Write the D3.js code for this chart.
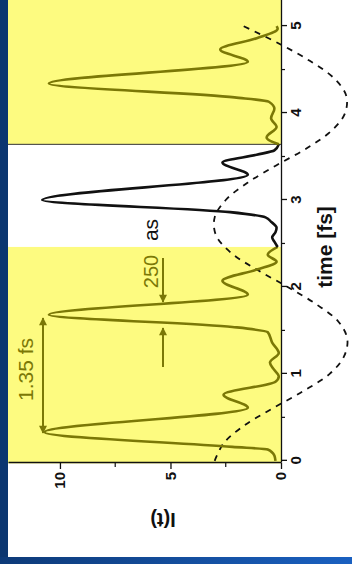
<!DOCTYPE html>
<html><head><meta charset="utf-8">
<script src="https://cdn.jsdelivr.net/npm/d3@7"></script>
<style>html,body{margin:0;padding:0;background:#fff;} svg{display:block;font-family:"Liberation Sans",Arial,sans-serif;}</style>
</head><body>
<svg id="c" width="352" height="564"></svg>
<script>
// ---- data (time in fs, intensity in arb. units) ----
const timeTicks = [0, 1, 2, 3, 4, 5];
const timeMinorTicks = [0.5, 1.5, 2.5, 3.5, 4.5];
const intensityTicks = [0, 5, 10];
const intensityMinorTicks = [2.5, 7.5];
const shadedSpans = [[-0.03, 2.46], [3.64, 5.45]];
const pulseSegment1 = [[0.00,0.25],[0.06,0.3],[0.13,0.6],[0.16,2.2],[0.33,10.7],[0.61,1.5],[0.76,2.6],[0.91,0.25],[0.97,0.1],[1.06,0.35],[1.13,0.5],[1.24,0.1],[1.36,0.4],[1.48,0.6],[1.54,2.2],[1.68,10.5],[1.91,1.5],[2.07,2.65],[2.20,1.1],[2.29,0.2],[2.37,0.6],[2.46,0.15]];
const pulseSegment2 = [[2.46,0.15],[2.52,0.3],[2.57,0.4],[2.63,0.25],[2.68,0.2],[2.75,0.45],[2.80,0.7],[2.86,2.3],[3.00,10.8],[3.29,1.5],[3.43,2.65],[3.52,1.1],[3.57,0.3],[3.64,0.1]];
const pulseSegment3 = [[3.64,0.1],[3.72,0.65],[3.84,0.2],[3.94,0.45],[4.05,0.3],[4.13,0.55],[4.18,2.1],[4.34,10.5],[4.59,1.5],[4.73,2.75],[4.86,1.1],[4.97,0.15],[5.00,0.2]];
const laserField = [[0.0,3.0],[0.2,2.6],[0.4,1.7],[0.6,0.4],[0.8,-1.0],[1.0,-2.2],[1.2,-2.85],[1.4,-3.0],[1.6,-2.6],[1.8,-1.6],[2.0,-0.3],[2.2,1.1],[2.4,2.3],[2.6,2.95],[2.8,3.0],[3.0,2.5],[3.2,1.5],[3.4,0.2],[3.6,-1.2],[3.8,-2.3],[4.0,-2.9],[4.2,-2.95],[4.4,-2.4],[4.6,-1.3],[4.8,0.1],[5.0,1.7]];
const labels = {time: "time [fs]", intensity: "I(t)", period: "1.35 fs", fwhmValue: "250", fwhmUnit: "as"};

// ---- layout ----
const svg = d3.select("#c");
const OLIVE = "#7b7806", YELLOW = "#fdfb80";
const W = 463, H = 273;

svg.append("rect").attr("x",0).attr("y",0).attr("width",352).attr("height",564).attr("fill","#fff");

const x = d3.scaleLinear().domain([-0.025, 5.3]).range([0, W]);
const y = d3.scaleLinear().domain([0, 12.35]).range([H, 0]);

// whole chart rotated 90° counter-clockwise
const g = svg.append("g").attr("transform", "translate(8,463) rotate(-90)");

const defs = svg.append("defs");
defs.append("marker").attr("id","ah").attr("viewBox","0 0 10 10").attr("refX",9).attr("refY",5)
  .attr("markerWidth",4.5).attr("markerHeight",4).attr("markerUnits","strokeWidth").attr("orient","auto-start-reverse")
  .append("path").attr("d","M0,0L10,5L0,10z").attr("fill",OLIVE);

g.selectAll("rect.shade").data(shadedSpans).join("rect").attr("class","shade")
  .attr("x", d => x(d[0])).attr("width", d => x(d[1]) - x(d[0]))
  .attr("y", 0).attr("height", H).attr("fill", YELLOW);

g.append("line").attr("x1", x(3.64)).attr("x2", x(3.64)).attr("y1", 0).attr("y2", H)
  .attr("stroke", "#333").attr("stroke-width", 1);

const line = d3.line().x(d => x(d[0])).y(d => y(d[1])).curve(d3.curveMonotoneX);

g.append("path").datum(laserField).attr("d", d3.line().x(d => x(d[0])).y(d => y(d[1])).curve(d3.curveCatmullRom))
  .attr("fill","none").attr("stroke","#111").attr("stroke-width",1.8).attr("stroke-dasharray","6,6");

[[pulseSegment1, OLIVE], [pulseSegment2, "#111"], [pulseSegment3, OLIVE]].forEach(([d, c]) => {
  g.append("path").datum(d).attr("d", line).attr("fill","none").attr("stroke", c)
    .attr("stroke-width", 2.6).attr("stroke-linejoin","round");
});

// axes
const tAxis = g.append("g").attr("transform", `translate(0,${H})`)
  .call(d3.axisBottom(x).tickValues(timeTicks).tickSize(6).tickSizeOuter(0).tickPadding(3).tickFormat(d3.format("d")));
const iAxis = g.append("g")
  .call(d3.axisLeft(y).tickValues(intensityTicks).tickSize(6).tickSizeOuter(0).tickPadding(3).tickFormat(d3.format("d")));
[tAxis, iAxis].forEach(a => {
  a.selectAll("text").attr("font-size", 15).attr("font-weight", "bold").attr("fill", "#111")
    .attr("font-family", '"Liberation Sans",Arial,sans-serif');
  a.selectAll("path,line").attr("stroke", "#111").attr("stroke-width", 1.3);
});
g.selectAll("line.tmin").data(timeMinorTicks).join("line").attr("class","tmin")
  .attr("x1", d => x(d)).attr("x2", d => x(d)).attr("y1", H).attr("y2", H + 4).attr("stroke","#111").attr("stroke-width",1.2);
g.selectAll("line.imin").data(intensityMinorTicks).join("line").attr("class","imin")
  .attr("y1", d => y(d)).attr("y2", d => y(d)).attr("x1", 0).attr("x2", -4).attr("stroke","#111").attr("stroke-width",1.2);

// axis titles
g.append("text").attr("x", 216).attr("y", 317).attr("dy", "0.35em").attr("text-anchor","middle")
  .attr("font-size", 21).attr("font-weight","bold").attr("fill","#111").text(labels.time);
g.append("text").attr("transform", "translate(-57,155) rotate(-90)").attr("dy", "0.35em").attr("text-anchor","middle")
  .attr("font-size", 20).attr("font-weight","bold").attr("fill","#111").text(labels.intensity);

// annotations
g.append("text").attr("x", 93.5).attr("y", 25).attr("text-anchor","middle")
  .attr("font-size", 21).attr("fill", OLIVE).text(labels.period);
g.append("text").attr("x", 191.5).attr("y", 150).attr("text-anchor","middle")
  .attr("font-size", 20).attr("fill", OLIVE).text(labels.fwhmValue);
g.append("text").attr("x", 233).attr("y", 150).attr("text-anchor","middle")
  .attr("font-size", 21).attr("fill", "#111").text(labels.fwhmUnit);

g.append("line").attr("x1", 30).attr("x2", 145).attr("y1", 35).attr("y2", 35)
  .attr("stroke", OLIVE).attr("stroke-width", 2).attr("marker-start","url(#ah)").attr("marker-end","url(#ah)");
g.append("line").attr("x1", 205).attr("x2", 161).attr("y1", 155).attr("y2", 155)
  .attr("stroke", OLIVE).attr("stroke-width", 2).attr("marker-end","url(#ah)");
g.append("line").attr("x1", 96).attr("x2", 135).attr("y1", 155).attr("y2", 155)
  .attr("stroke", OLIVE).attr("stroke-width", 2).attr("marker-end","url(#ah)");

// blue frame
const grad = defs.append("linearGradient").attr("id","bg").attr("x1","0").attr("x2","1");
grad.append("stop").attr("offset","0").attr("stop-color","#0d3a78");
grad.append("stop").attr("offset","1").attr("stop-color","#1a60c0");
svg.append("rect").attr("x",0).attr("y",0).attr("width",8).attr("height",564).attr("fill","#0b3670");
svg.append("rect").attr("x",0).attr("y",557).attr("width",352).attr("height",7).attr("fill","url(#bg)");
</script>
</body></html>
